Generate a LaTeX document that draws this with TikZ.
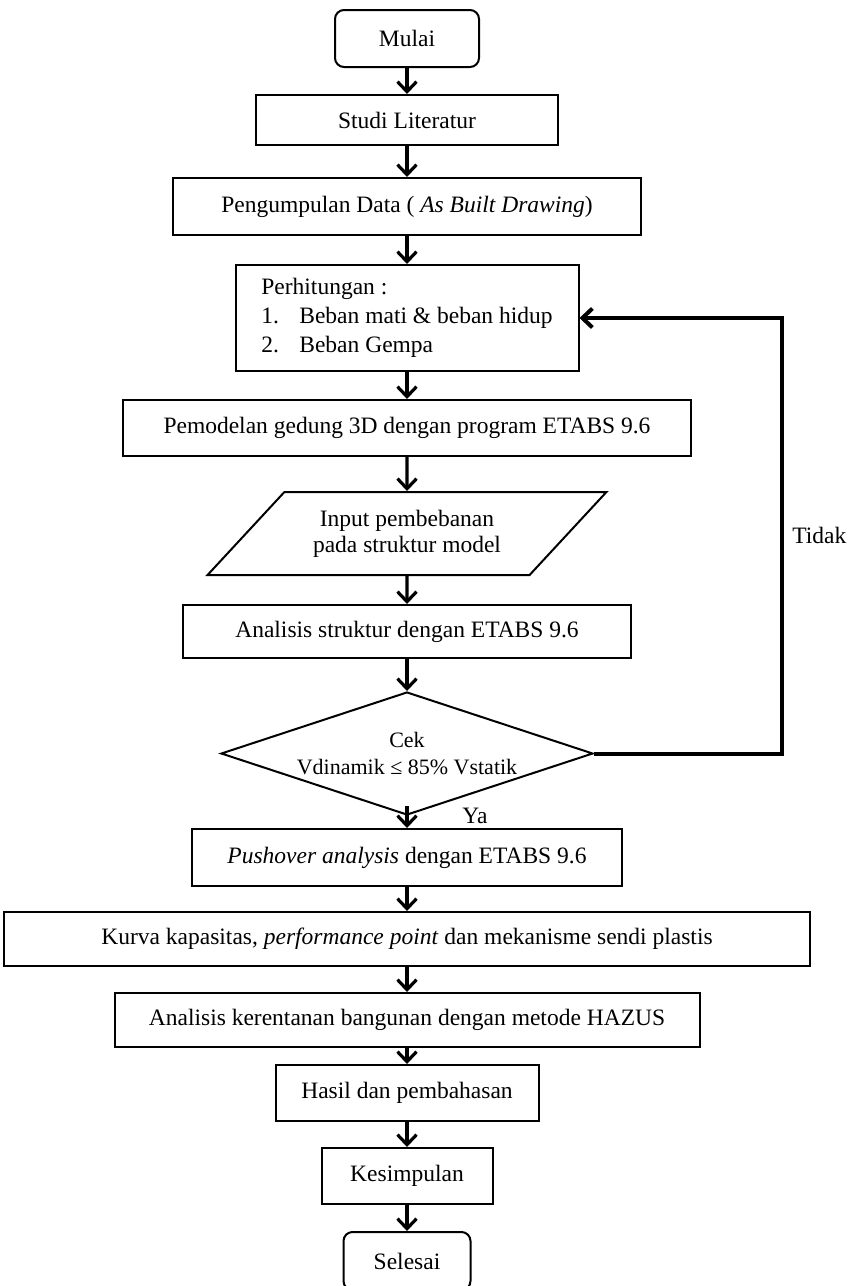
\documentclass[tikz,border=0pt]{standalone}
\usepackage{fontspec}
\setmainfont{Liberation Serif}
\usetikzlibrary{positioning,shapes.geometric,arrows.meta}

\begin{document}
\begin{tikzpicture}[x=1pt,y=1pt,node distance=80pt,on grid,
    font=\fontsize{23.5}{29}\selectfont,
    >={Straight Barb[length=10pt,width=19pt]},
    every edge/.style={draw,line width=3.2pt}]
  \tikzstyle{proses}=[draw,line width=2pt,inner sep=4pt,align=center]
  \tikzstyle{terminal}=[proses,rounded corners=9pt]
  \tikzstyle{masukan}=[proses,trapezium,trapezium left angle=42,trapezium right angle=138,trapezium stretches=true]
  \tikzstyle{keputusan}=[proses,diamond,aspect=3,inner sep=-10pt,font=\fontsize{22}{27}\selectfont]
  \useasboundingbox (0,0) rectangle (848,-1286);
  \node[terminal,minimum width=144pt,minimum height=57pt] (mulai) at (407,-38.5) {Mulai};
  \node[proses,minimum width=302pt,minimum height=50pt] (studi) [below=81.5pt of mulai] {Studi Literatur};
  \node[proses,minimum width=468pt,minimum height=57pt] (data) [below=86.5pt of studi] {Pengumpulan Data ( \textit{As Built Drawing})};
  \node[proses,align=left,minimum width=343pt,minimum height=106pt] (hitung) [below=111.5pt of data]
    {Perhitungan :\\\makebox[38pt][l]{1.}Beban mati \& beban hidup\\\makebox[38pt][l]{2.}Beban Gempa};
  \node[proses,minimum width=568pt,minimum height=56pt] (model) [below=110pt of hitung] {Pemodelan gedung 3D dengan program ETABS 9.6};
  \node[masukan,minimum width=400pt,minimum height=83pt,font=\fontsize{23.5}{26}\selectfont] (input) [below=105.5pt of model]
    {Input pembebanan\\pada struktur model};
  \node[proses,minimum width=448pt,minimum height=53pt] (anal) [below=98pt of input] {Analisis struktur dengan ETABS 9.6};
  \node[keputusan,minimum width=372pt,minimum height=123pt] (cek) [below=122pt of anal] {Cek\\Vdinamik ≤ 85\% Vstatik};
  \node[proses,minimum width=430pt,minimum height=57pt] (push) [below=104pt of cek] {\textit{Pushover analysis} dengan ETABS 9.6};
  \node[proses,minimum width=806pt,minimum height=54pt] (kurva) [below=81.5pt of push]
    {Kurva kapasitas, \textit{performance point} dan mekanisme sendi plastis};
  \node[proses,minimum width=585pt,minimum height=54pt] (hazus) [below=81pt of kurva] {Analisis kerentanan bangunan dengan metode HAZUS};
  \node[proses,minimum width=263pt,minimum height=56pt] (hasil) [below=73pt of hazus] {Hasil dan pembahasan};
  \node[proses,minimum width=171pt,minimum height=56pt] (kesim) [below=83pt of hasil] {Kesimpulan};
  \node[terminal,minimum width=127pt,minimum height=58pt] (selesai) [below=85pt of kesim] {Selesai};
  \node (ya) [xshift=68pt] at (cek.south) {Ya};
  \coordinate (fb) at ([xshift=188pt]cek.east);
    \path[->]
    (mulai) edge (studi)
    (studi) edge (data)
    (data) edge (hitung)
    (hitung) edge (model)
    (model) edge (input)
    (input) edge (anal)
    (anal) edge (cek)
    ([yshift=10pt]cek.south) edge (push)
    (push) edge (kurva)
    (kurva) edge (hazus)
    (hazus) edge (hasil)
    (hasil) edge (kesim)
    (kesim) edge (selesai);
  \draw[->,line width=4pt] (cek.east) -- (fb) |- node[pos=0.25,anchor=west,xshift=5pt] {Tidak} (hitung.east);
\end{tikzpicture}
\end{document}
